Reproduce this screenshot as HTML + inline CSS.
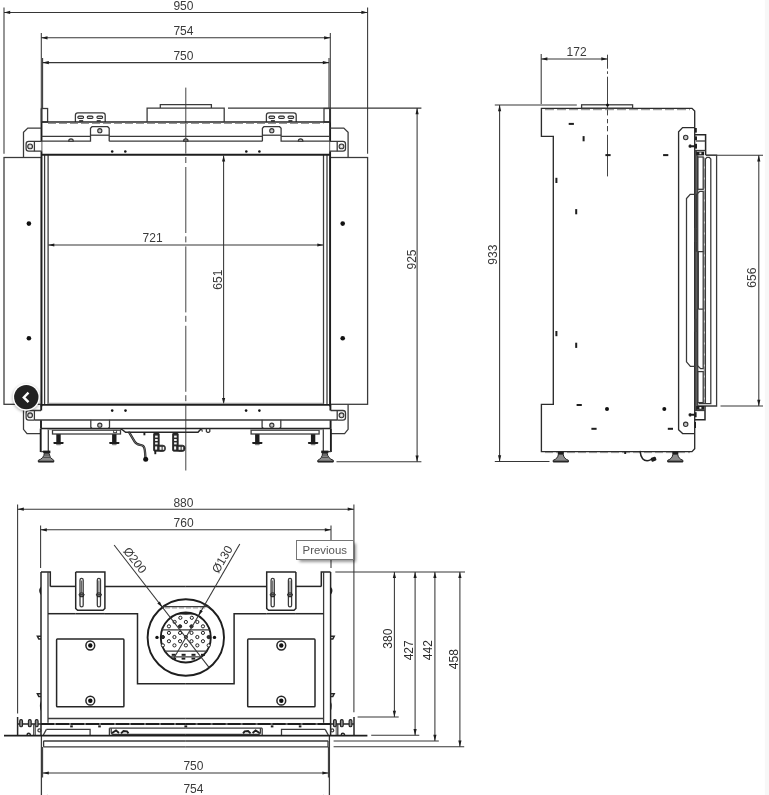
<!DOCTYPE html>
<html lang="en"><head><meta charset="utf-8"><title>Dimensions</title>
<style>
html,body{margin:0;padding:0;background:#fff}
body{width:769px;height:795px;overflow:hidden;font-family:"Liberation Sans",sans-serif}
svg{display:block;will-change:transform}
.t{fill:none;stroke:#3a3a3a;stroke-width:1.28}
.n{fill:none;stroke:#444;stroke-width:.9}
.g{fill:none;stroke:#8a8a8a;stroke-width:1}
.k{fill:none;stroke:#1e1e1e;stroke-width:1.9}
.k2{fill:none;stroke:#262626;stroke-width:1.5}
.sb{fill:none;stroke:#2c2c2c;stroke-width:1.35}
.m{fill:none;stroke:#363636;stroke-width:1.05}
.c{fill:none;stroke:#444;stroke-width:1}
.cb{fill:none;stroke:#222;stroke-width:2.3;stroke-linecap:round}
.cb2{fill:none;stroke:#222;stroke-width:1.5;stroke-linecap:round}
.cbi{fill:none;stroke:#aaa;stroke-width:.6}
.a{fill:#1c1c1c;stroke:none}
.d{fill:#111;stroke:none}
.f{fill:#1e1e1e;stroke:none}
.f2{fill:#8c8c8c;stroke:#222;stroke-width:1}
.ft{fill:#2a2a2a;stroke:#1e1e1e;stroke-width:.8}
.w{fill:#f4f4f4;stroke:none}
.pg{fill:#888;stroke:#222;stroke-width:1.1}
.sl{fill:#d8d8d8;stroke:#2e2e2e;stroke-width:1.05}
.cg{fill:#c4c4c4;stroke:#333;stroke-width:1.1}
.h{fill:#fff;stroke:#222;stroke-width:1}
.hf{fill:#333;stroke:#1c1c1c;stroke-width:1}
text{font-family:"Liberation Sans",sans-serif}
.dt{fill:#3a3a3a}
.dt2{fill:#2e2e2e}
</style></head>
<body>
<svg width="769" height="795" viewBox="0 0 769 795">
<defs><filter id="bl" x="-20%" y="-40%" width="140%" height="180%"><feGaussianBlur stdDeviation="1.6"/></filter></defs>
<rect x="0" y="0" width="769" height="795" fill="#fff"/>
<rect x="764.8" y="0" width="4.2" height="795" fill="#f7f7f7"/>
<line class="m" x1="4" y1="7.5" x2="4" y2="153.7"/>
<line class="m" x1="367.6" y1="7.5" x2="367.6" y2="153.7"/>
<line class="m" x1="4" y1="12.4" x2="367.6" y2="12.4"/>
<polygon class="a" points="4,12.4 10.2,10.8 10.2,14"/>
<polygon class="a" points="367.6,12.4 361.4,14 361.4,10.8"/>
<text class="dt" x="183.4" y="10.1" font-size="12" text-anchor="middle">950</text>
<line class="m" x1="41.3" y1="33" x2="41.3" y2="108"/>
<line class="m" x1="330.3" y1="33" x2="330.3" y2="108"/>
<line class="m" x1="41.3" y1="37.8" x2="330.3" y2="37.8"/>
<polygon class="a" points="41.3,37.8 47.5,36.2 47.5,39.4"/>
<polygon class="a" points="330.3,37.8 324.1,39.4 324.1,36.2"/>
<text class="dt" x="183.4" y="35.2" font-size="12" text-anchor="middle">754</text>
<line class="m" x1="42.6" y1="58" x2="42.6" y2="108"/>
<line class="m" x1="329" y1="58" x2="329" y2="108"/>
<line class="m" x1="42.6" y1="62.6" x2="329" y2="62.6"/>
<polygon class="a" points="42.6,62.6 48.8,61 48.8,64.2"/>
<polygon class="a" points="329,62.6 322.8,64.2 322.8,61"/>
<text class="dt" x="183.4" y="60.4" font-size="12" text-anchor="middle">750</text>
<line class="m" x1="228" y1="108.1" x2="421.4" y2="108.1"/>
<line class="m" x1="336.5" y1="461.7" x2="421.4" y2="461.7"/>
<line class="m" x1="417.1" y1="108.1" x2="417.1" y2="461.7"/>
<polygon class="a" points="417.1,108.1 418.7,114.3 415.5,114.3"/>
<polygon class="a" points="417.1,461.7 415.5,455.5 418.7,455.5"/>
<text class="dt" x="415.5" y="259.5" font-size="12" text-anchor="middle" transform="rotate(-90 415.5 259.5)">925</text>
<line class="m" x1="48.1" y1="245" x2="323.5" y2="245"/>
<polygon class="a" points="48.1,245 54.3,243.4 54.3,246.6"/>
<polygon class="a" points="323.5,245 317.3,246.6 317.3,243.4"/>
<text class="dt" x="152.6" y="242.3" font-size="12" text-anchor="middle">721</text>
<line class="m" x1="223.6" y1="155.4" x2="223.6" y2="404.2"/>
<polygon class="a" points="223.6,155.4 225.2,161.6 222,161.6"/>
<polygon class="a" points="223.6,404.2 222,398 225.2,398"/>
<text class="dt" x="221.6" y="279.7" font-size="12" text-anchor="middle" transform="rotate(-90 221.6 279.7)">651</text>
<line class="c" x1="185.8" y1="87.6" x2="185.8" y2="470.5" stroke-dasharray="66 3.4 6 4"/>
<rect class="t" x="4" y="157.5" width="37.4" height="246.8"/>
<circle class="d" cx="28.9" cy="223.6" r="2.3"/>
<circle class="d" cx="28.9" cy="338.2" r="2.3"/>
<line class="k" x1="41.5" y1="108.3" x2="41.5" y2="141.4"/>
<line class="k" x1="41.5" y1="151.2" x2="41.5" y2="406.4"/>
<line class="k" x1="41" y1="420.1" x2="41" y2="428.6"/>
<line class="t" x1="44.6" y1="155" x2="44.6" y2="405"/>
<line class="t" x1="48.1" y1="155" x2="48.1" y2="405"/>
<rect class="t" x="41.5" y="108.5" width="6.1" height="13.5"/>
<path class="t" d="M75.4,122 L75.4,115.2 Q75.4,112.9 77.8,112.9 L102.8,112.9 Q105.2,112.9 105.2,115.2 L105.2,122"/>
<rect class="sl" x="77.8" y="116.1" width="5.8" height="2.4" rx="1.2"/>
<rect class="sl" x="87.2" y="116.1" width="5.8" height="2.4" rx="1.2"/>
<rect class="sl" x="96.9" y="116.1" width="5.8" height="2.4" rx="1.2"/>
<line class="k2" x1="79.2" y1="120.9" x2="83.2" y2="120.9"/>
<line class="k2" x1="96.7" y1="120.9" x2="100.7" y2="120.9"/>
<path class="t" d="M41.5,136.4 L90.5,136.4"/>
<path class="t" d="M41.5,141.2 L90.5,141.2 L90.5,128.2 L92,126.7 L107.7,126.7 L109.2,128.2 L109.2,141.2"/>
<circle class="cg" cx="99.8" cy="130.7" r="2.1"/>
<line class="t" x1="90.5" y1="135.2" x2="109.2" y2="135.2"/>
<path class="cg" d="M68.7,141.2 A2.3,2.3 0 0 1 73.3,141.2 Z"/>
<circle class="d" cx="112.2" cy="151.5" r="1.3"/>
<circle class="d" cx="125.3" cy="151.5" r="1.3"/>
<path class="t" d="M41.5,128.1 L27.8,128.1 L23.5,132.2 L23.5,157.5"/>
<path class="t" d="M41.8,141.4 L28.7,141.4 Q26.1,141.4 26.1,144.0 L26.1,148.6 Q26.1,151.2 28.7,151.2 L41.8,151.2"/>
<line class="t" x1="34.4" y1="141.4" x2="34.4" y2="151.2"/>
<line class="n" x1="41.9" y1="141.4" x2="41.9" y2="151.2"/>
<circle class="cg" cx="30.1" cy="146.4" r="2.4"/>
<circle cx="30.1" cy="146.4" r="0.8" fill="#fff"/>
<path class="t" d="M23.5,404.3 L23.5,429.3 L27,433.6 L40.6,433.6"/>
<path class="t" d="M41,410.5 L28.7,410.5 Q26.1,410.5 26.1,413.1 L26.1,417.5 Q26.1,420.1 28.7,420.1 L34.4,420.1"/>
<line class="t" x1="34.4" y1="410.5" x2="34.4" y2="420.1"/>
<line class="k" x1="41.2" y1="404.9" x2="41.2" y2="410.5"/>
<circle class="cg" cx="30.1" cy="415.3" r="2.4"/>
<circle cx="30.1" cy="415.3" r="0.8" fill="#fff"/>
<circle class="d" cx="112.2" cy="410.6" r="1.3"/>
<circle class="d" cx="125.5" cy="410.6" r="1.3"/>
<path class="t" d="M90.8,419.8 L90.8,427.2 L92.2,428.6 L108.1,428.6 L109.5,427.2 L109.5,419.8"/>
<circle class="cg" cx="99.8" cy="425.2" r="2.1"/>
<line class="k" x1="40.7" y1="428.6" x2="40.7" y2="452"/>
<line class="t" x1="48.3" y1="428.6" x2="48.3" y2="451.2"/>
<line class="t" x1="40.7" y1="451.6" x2="44" y2="451.6"/>
<rect class="f" x="43.2" y="450.6" width="7.2" height="2.6"/>
<path class="f2" d="M44.4,453.2 L49,453.2 Q49.4,458.4 53.8,460.3 L53.8,461.9 L38.3,461.9 L38.3,460.3 Q43.8,458.4 44.4,453.2 Z"/>
<line class="k2" x1="38.3" y1="461.5" x2="53.8" y2="461.5"/>
<line class="n" x1="44.2" y1="455" x2="49.2" y2="455"/>
<line class="n" x1="43.2" y1="457.4" x2="50.2" y2="457.4"/>
<rect class="t" x="52.5" y="430.2" width="68" height="3.8"/>
<rect class="f" x="56.3" y="434.2" width="4.4" height="8"/>
<rect class="f" x="53.3" y="442.0" width="10.4" height="1.9" rx=".8"/>
<rect class="f" x="56.1" y="443.6" width="4.8" height="1.6" rx=".8" fill-opacity="0.55"/>
<rect class="f" x="112.1" y="434.2" width="4.4" height="8"/>
<rect class="f" x="109.1" y="442.0" width="10.4" height="1.9" rx=".8"/>
<rect class="f" x="111.9" y="443.6" width="4.8" height="1.6" rx=".8" fill-opacity="0.55"/>
<rect class="t" x="330.2" y="157.5" width="37.4" height="246.8"/>
<circle class="d" cx="342.7" cy="223.6" r="2.3"/>
<circle class="d" cx="342.7" cy="338.2" r="2.3"/>
<line class="k" x1="330.1" y1="108.3" x2="330.1" y2="141.4"/>
<line class="k" x1="330.1" y1="151.2" x2="330.1" y2="406.4"/>
<line class="k" x1="330.6" y1="420.1" x2="330.6" y2="428.6"/>
<line class="t" x1="327" y1="155" x2="327" y2="405"/>
<line class="t" x1="323.5" y1="155" x2="323.5" y2="405"/>
<rect class="t" x="324" y="108.5" width="6.1" height="13.5"/>
<path class="t" d="M296.2,122 L296.2,115.2 Q296.2,112.9 293.8,112.9 L268.8,112.9 Q266.4,112.9 266.4,115.2 L266.4,122"/>
<rect class="sl" x="288" y="116.1" width="5.8" height="2.4" rx="1.2"/>
<rect class="sl" x="278.6" y="116.1" width="5.8" height="2.4" rx="1.2"/>
<rect class="sl" x="268.9" y="116.1" width="5.8" height="2.4" rx="1.2"/>
<line class="k2" x1="288.4" y1="120.9" x2="292.4" y2="120.9"/>
<line class="k2" x1="270.9" y1="120.9" x2="274.9" y2="120.9"/>
<path class="t" d="M330.1,136.4 L281.1,136.4"/>
<path class="t" d="M330.1,141.2 L281.1,141.2 L281.1,128.2 L279.6,126.7 L263.9,126.7 L262.4,128.2 L262.4,141.2"/>
<circle class="cg" cx="271.8" cy="130.7" r="2.1"/>
<line class="t" x1="281.1" y1="135.2" x2="262.4" y2="135.2"/>
<path class="cg" d="M298.3,141.2 A2.3,2.3 0 0 1 302.9,141.2 Z"/>
<circle class="d" cx="259.4" cy="151.5" r="1.3"/>
<circle class="d" cx="246.3" cy="151.5" r="1.3"/>
<path class="t" d="M330.1,128.1 L343.8,128.1 L348.1,132.2 L348.1,157.5"/>
<path class="t" d="M329.8,141.4 L342.9,141.4 Q345.5,141.4 345.5,144.0 L345.5,148.6 Q345.5,151.2 342.9,151.2 L329.8,151.2"/>
<line class="t" x1="337.2" y1="141.4" x2="337.2" y2="151.2"/>
<line class="n" x1="329.7" y1="141.4" x2="329.7" y2="151.2"/>
<circle class="cg" cx="341.5" cy="146.4" r="2.4"/>
<circle cx="341.5" cy="146.4" r="0.8" fill="#fff"/>
<path class="t" d="M348.1,404.3 L348.1,429.3 L344.6,433.6 L331,433.6"/>
<path class="t" d="M330.6,410.5 L342.9,410.5 Q345.5,410.5 345.5,413.1 L345.5,417.5 Q345.5,420.1 342.9,420.1 L337.2,420.1"/>
<line class="t" x1="337.2" y1="410.5" x2="337.2" y2="420.1"/>
<line class="k" x1="330.4" y1="404.9" x2="330.4" y2="410.5"/>
<circle class="cg" cx="341.5" cy="415.3" r="2.4"/>
<circle cx="341.5" cy="415.3" r="0.8" fill="#fff"/>
<circle class="d" cx="259.4" cy="410.6" r="1.3"/>
<circle class="d" cx="246.1" cy="410.6" r="1.3"/>
<path class="t" d="M280.8,419.8 L280.8,427.2 L279.4,428.6 L263.5,428.6 L262.1,427.2 L262.1,419.8"/>
<circle class="cg" cx="271.8" cy="425.2" r="2.1"/>
<line class="k" x1="330.9" y1="428.6" x2="330.9" y2="452"/>
<line class="t" x1="323.3" y1="428.6" x2="323.3" y2="451.2"/>
<line class="t" x1="330.9" y1="451.6" x2="327.6" y2="451.6"/>
<rect class="f" x="321.2" y="450.6" width="7.2" height="2.6"/>
<path class="f2" d="M327.2,453.2 L322.6,453.2 Q322.2,458.4 317.8,460.3 L317.8,461.9 L333.3,461.9 L333.3,460.3 Q327.8,458.4 327.2,453.2 Z"/>
<line class="k2" x1="333.3" y1="461.5" x2="317.8" y2="461.5"/>
<line class="n" x1="327.4" y1="455" x2="322.4" y2="455"/>
<line class="n" x1="328.4" y1="457.4" x2="321.4" y2="457.4"/>
<rect class="t" x="251.1" y="430.2" width="68" height="3.8"/>
<rect class="f" x="310.9" y="434.2" width="4.4" height="8"/>
<rect class="f" x="307.9" y="442.0" width="10.4" height="1.9" rx=".8"/>
<rect class="f" x="310.7" y="443.6" width="4.8" height="1.6" rx=".8" fill-opacity="0.55"/>
<rect class="f" x="255.1" y="434.2" width="4.4" height="8"/>
<rect class="f" x="252.1" y="442.0" width="10.4" height="1.9" rx=".8"/>
<rect class="f" x="254.9" y="443.6" width="4.8" height="1.6" rx=".8" fill-opacity="0.55"/>
<rect class="n" x="113.6" y="430" width="3" height="2.6"/>
<path class="cg" d="M183.5,141.2 A2.3,2.3 0 0 1 188.1,141.2 Z"/>
<line class="t" x1="109.2" y1="136.4" x2="262.4" y2="136.4"/>
<line class="t" x1="109.2" y1="141.2" x2="262.4" y2="141.2"/>
<line class="k2" x1="41.5" y1="122" x2="330.1" y2="122"/>
<line class="g" x1="48" y1="123.4" x2="323.6" y2="123.4" stroke-dasharray="8 3"/>
<path class="t" d="M147.1,122 L147.1,108.1 L224.2,108.1 L224.2,122"/>
<path class="t" d="M160.3,108.1 L160.3,104.7 L211.4,104.7 L211.4,108.1"/>
<line class="k" x1="41.5" y1="154.8" x2="330.1" y2="154.8"/>
<line class="g" x1="48.1" y1="403.3" x2="323.5" y2="403.3"/>
<line class="k" x1="41.5" y1="404.9" x2="330.1" y2="404.9"/>
<line class="t" x1="34.4" y1="420" x2="337.2" y2="420"/>
<line class="k2" x1="40.9" y1="428.5" x2="330.7" y2="428.5"/>
<line class="g" x1="48" y1="429.6" x2="121" y2="429.6"/>
<line class="g" x1="250.6" y1="429.6" x2="323.6" y2="429.6"/>
<path class="k2" d="M120.5,428.6 L122.6,430 L125.6,432.3 L198,432.3 L201.4,428.6"/>
<path class="t" d="M206.4,428.6 L206.4,431.4 L207.4,432.4 L208.8,432.4 L209.8,431.4 L209.8,428.6"/>
<path class="t" d="M201.4,428.6 L202.4,431.6"/>
<line class="k" x1="144.4" y1="432.3" x2="144.4" y2="435.3"/>
<path class="cb" d="M129.3,432.6 L134.8,441.8 C136.6,445.4 140.4,444.4 142.8,445.8 C145.4,447.4 144.8,451 145.4,457.2"/>
<path class="cbi" d="M129.3,432.6 L134.8,441.8 C136.6,445.4 140.4,444.4 142.8,445.8 C145.4,447.4 144.8,451 145.4,457.2"/>
<circle class="d" cx="145.7" cy="459.3" r="2.5"/>
<rect class="ft" x="153.6" y="433" width="5.6" height="18.2" rx="1.2"/>
<rect class="ft" x="157.2" y="445.2" width="8.2" height="6.2" rx="2.6"/>
<rect class="w" x="155.1" y="435.6" width="2.6" height="2"/>
<rect class="w" x="155.1" y="439" width="2.6" height="2"/>
<rect class="w" x="155.1" y="442.4" width="2.6" height="2"/>
<rect class="w" x="155.1" y="446.4" width="2.1" height="3.2"/>
<rect class="w" x="159.6" y="446.8" width="2" height="3"/>
<rect class="w" x="162.6" y="446.8" width="1.6" height="3"/>
<rect class="ft" x="172.6" y="433" width="5.6" height="18.2" rx="1.2"/>
<rect class="ft" x="176.2" y="445.2" width="8.8" height="6.2" rx="2.6"/>
<rect class="w" x="174.1" y="435.6" width="2.6" height="2"/>
<rect class="w" x="174.1" y="439" width="2.6" height="2"/>
<rect class="w" x="174.1" y="442.4" width="2.6" height="2"/>
<rect class="w" x="174.1" y="446.4" width="2.1" height="3.2"/>
<rect class="w" x="178.6" y="446.8" width="2" height="3"/>
<rect class="w" x="181.6" y="446.8" width="1.6" height="3"/>
<line class="k" x1="155.3" y1="451" x2="155.3" y2="454.2"/>
<circle cx="26.3" cy="398.2" r="13.8" fill="#000" opacity="0.28" filter="url(#bl)"/>
<circle cx="26.3" cy="397.1" r="13.6" fill="#fff"/>
<circle cx="26.3" cy="397.1" r="12.2" fill="#222"/>
<path d="M28.5,392.7 L23.8,397.4 L28.5,402.1" fill="none" stroke="#fff" stroke-width="2.4" stroke-linejoin="miter"/>
<line class="m" x1="541.2" y1="54" x2="541.2" y2="104"/>
<line class="c" x1="607.5" y1="54.7" x2="607.5" y2="176.4" stroke-dasharray="14 2.6 2.6 2.8 38.7 3.6 4.3 2.7 5.3 3.5 42"/>
<line class="m" x1="541.2" y1="58.9" x2="607.5" y2="58.9"/>
<polygon class="a" points="541.2,58.9 547.4,57.3 547.4,60.5"/>
<polygon class="a" points="607.5,58.9 601.3,60.5 601.3,57.3"/>
<text class="dt" x="576.6" y="56.1" font-size="12" text-anchor="middle">172</text>
<line class="m" x1="494.8" y1="105" x2="576.8" y2="105"/>
<line class="m" x1="494.8" y1="461.5" x2="549.5" y2="461.5"/>
<line class="m" x1="499.6" y1="105" x2="499.6" y2="461.5"/>
<polygon class="a" points="499.6,105 501.2,111.2 498,111.2"/>
<polygon class="a" points="499.6,461.5 498,455.3 501.2,455.3"/>
<text class="dt" x="497.2" y="254.6" font-size="12" text-anchor="middle" transform="rotate(-90 497.2 254.6)">933</text>
<line class="m" x1="706" y1="155.2" x2="763" y2="155.2"/>
<line class="m" x1="720.5" y1="405.9" x2="763" y2="405.9"/>
<line class="m" x1="758.8" y1="155.2" x2="758.8" y2="405.9"/>
<polygon class="a" points="758.8,155.2 760.4,161.4 757.2,161.4"/>
<polygon class="a" points="758.8,405.9 757.2,399.7 760.4,399.7"/>
<text class="dt" x="756.3" y="277.7" font-size="12" text-anchor="middle" transform="rotate(-90 756.3 277.7)">656</text>
<path class="sb" d="M541.4,108.3 L692,108.3 L694.7,111 L694.7,448.8 L692,451.6 L541.4,451.6 L541.4,404.4 L553.3,404.4 L553.3,136.4 L541.4,136.4 Z"/>
<line class="g" x1="545" y1="109.7" x2="690" y2="109.7" stroke-dasharray="9 3"/>
<line class="g" x1="545" y1="452.6" x2="690" y2="452.6" stroke-dasharray="8 3"/>
<rect class="t" x="581.6" y="104.8" width="51" height="3.5"/>
<circle class="d" cx="607.5" cy="105" r="1.5"/>
<rect class="f" x="568.7" y="122.9" width="5.2" height="2"/>
<rect class="f" x="582.6" y="136.1" width="2" height="5.2"/>
<rect class="f" x="605.4" y="154.1" width="5.2" height="2"/>
<rect class="f" x="663.1" y="154.1" width="5.2" height="2"/>
<rect class="f" x="555.4" y="177.8" width="2" height="5.2"/>
<rect class="f" x="575.2" y="209.1" width="2" height="5.2"/>
<rect class="f" x="555.4" y="331" width="2" height="5.2"/>
<rect class="f" x="575.2" y="342.7" width="2" height="5.2"/>
<rect class="f" x="576.6" y="404" width="5.2" height="2"/>
<circle class="d" cx="607" cy="408.9" r="2"/>
<circle class="d" cx="664.3" cy="408.9" r="2"/>
<rect class="f" x="591.4" y="427.8" width="5.2" height="2"/>
<rect class="f" x="667.8" y="427.8" width="5.2" height="2"/>
<path class="sb" d="M694.7,127.6 L682.6,127.6 L678.6,131.7 L678.6,429.8 L682.6,433.6 L694.7,433.6"/>
<circle class="cg" cx="685.7" cy="137.5" r="2.2"/>
<circle class="cg" cx="685.7" cy="424.3" r="2.2"/>
<rect class="f" x="557.8" y="451.6" width="6" height="2.6"/>
<path class="f2" d="M558.4,454.2 L563.2,454.2 Q563.6,458.6 568.4,460.3 L568.4,461.9 L553.2,461.9 L553.2,460.3 Q558,458.6 558.4,454.2 Z"/>
<line class="k2" x1="553.2" y1="461.4" x2="568.4" y2="461.4"/>
<rect class="f" x="672.3" y="451.6" width="6" height="2.6"/>
<path class="f2" d="M672.9,454.2 L677.7,454.2 Q678.1,458.6 682.9,460.3 L682.9,461.9 L667.7,461.9 L667.7,460.3 Q672.5,458.6 672.9,454.2 Z"/>
<line class="k2" x1="667.7" y1="461.4" x2="682.9" y2="461.4"/>
<path class="cb2" d="M640.2,451.6 C640.6,457.5 643.5,461.5 648.5,460.6 L651.5,459.4"/>
<rect class="f" x="651" y="457.2" width="5.2" height="4" rx="1" transform="rotate(-20 653.6 459.2)"/>
<line class="k" x1="625.2" y1="451.6" x2="625.2" y2="454"/>
<line class="k2" x1="696" y1="150.5" x2="696" y2="410"/>
<line class="t" x1="697.7" y1="155.2" x2="697.7" y2="406"/>
<line class="g" x1="704.2" y1="157.5" x2="704.2" y2="403.5" stroke-dasharray="9 2"/>
<path class="t" d="M706,155.2 L716.6,155.2 L716.6,406 L697.7,406"/>
<path class="t" d="M705.4,403.6 L705.4,159 L706.9,157.4 L709.3,157.4 L710.8,159 L710.8,403.6 L699,403.6"/>
<rect class="t" x="697.7" y="157" width="5.5" height="32.3"/>
<path class="t" d="M696.4,251.7 L696.4,194.6 L699.8,191.4 L703.2,191.4 L703.2,251.7"/>
<path class="t" d="M698.3,309.2 L698.3,251.7 L703.2,251.7 L703.2,309.2 L698.3,309.2"/>
<path class="t" d="M697.3,309.2 L697.3,365.4 L700.6,368.6 L703.2,368.6 L703.2,309.2"/>
<rect class="t" x="697.7" y="371.6" width="5.5" height="31"/>
<rect class="n" x="694.9" y="228.5" width="2.1" height="13.1"/>
<rect class="n" x="694.9" y="319.2" width="2.1" height="12.1"/>
<path class="t" d="M694.7,194.3 L690.2,194.3 L686.5,198.6 L686.5,361.8 L690.4,366.4 L694.7,366.4"/>
<path class="k2" d="M694.7,134.8 L705.6,134.8 L705.6,155.2"/>
<line class="t" x1="696" y1="141" x2="705.6" y2="141"/>
<line class="t" x1="694.7" y1="150.5" x2="705.6" y2="150.5"/>
<rect class="f" x="696.2" y="151.6" width="7.8" height="3.8"/>
<rect class="w" x="699.4" y="152.4" width="2" height="1.8"/>
<path class="k" d="M688.6,146.2 L694.7,146.2 M690.2,144.6 L690.2,147.8"/>
<rect class="f" x="694.9" y="143.8" width="2.1" height="4.8"/>
<rect class="f" x="694.9" y="128" width="1.9" height="4.6"/>
<rect class="f" x="694.9" y="136.4" width="2.1" height="3.8"/>
<path class="k2" d="M705,406 L705,419.8 L694.7,419.8"/>
<line class="t" x1="694.7" y1="410.5" x2="705" y2="410.5"/>
<rect class="f" x="696.2" y="406" width="7.8" height="3.8"/>
<rect class="w" x="699.4" y="407" width="2" height="1.8"/>
<path class="k" d="M688.6,414.8 L694.7,414.8 M690.2,413.2 L690.2,416.4"/>
<rect class="f" x="694.7" y="412.2" width="1.9" height="5"/>
<rect class="f" x="694.7" y="422" width="1.3" height="6"/>
<line class="m" x1="17.6" y1="504.6" x2="17.6" y2="713.4"/>
<line class="m" x1="353.9" y1="504.6" x2="353.9" y2="712.3"/>
<line class="m" x1="17.6" y1="509.2" x2="353.9" y2="509.2"/>
<polygon class="a" points="17.6,509.2 23.8,507.6 23.8,510.8"/>
<polygon class="a" points="353.9,509.2 347.7,510.8 347.7,507.6"/>
<text class="dt" x="183.4" y="506.7" font-size="12" text-anchor="middle">880</text>
<line class="m" x1="40.6" y1="525.5" x2="40.6" y2="568"/>
<line class="m" x1="331" y1="525.5" x2="331" y2="568" stroke-dasharray="26 3"/>
<line class="m" x1="40.6" y1="529.8" x2="331" y2="529.8"/>
<polygon class="a" points="40.6,529.8 46.8,528.2 46.8,531.4"/>
<polygon class="a" points="331,529.8 324.8,531.4 324.8,528.2"/>
<text class="dt" x="183.6" y="527.2" font-size="12" text-anchor="middle">760</text>
<line class="t" x1="41.4" y1="735.6" x2="41.4" y2="795"/>
<line class="t" x1="329.4" y1="735.6" x2="329.4" y2="795"/>
<line class="m" x1="42.6" y1="773" x2="328.6" y2="773"/>
<polygon class="a" points="42.6,773 48.8,771.4 48.8,774.6"/>
<polygon class="a" points="328.6,773 322.4,774.6 322.4,771.4"/>
<text class="dt" x="193.4" y="770.1" font-size="12" text-anchor="middle">750</text>
<line class="m" x1="41.4" y1="796.4" x2="329.4" y2="796.4"/>
<polygon class="a" points="41.4,796.4 47.6,794.8 47.6,798"/>
<polygon class="a" points="329.4,796.4 323.2,798 323.2,794.8"/>
<text class="dt" x="193.4" y="792.6" font-size="12" text-anchor="middle">754</text>
<line class="m" x1="42.6" y1="746.9" x2="42.6" y2="777.4"/>
<line class="m" x1="328.4" y1="746.9" x2="328.4" y2="777.4"/>
<line class="m" x1="335.3" y1="571.9" x2="465" y2="571.9"/>
<line class="m" x1="357.6" y1="717" x2="398.7" y2="717"/>
<line class="m" x1="371.2" y1="735.2" x2="419.3" y2="735.2"/>
<line class="m" x1="333.6" y1="741" x2="438.8" y2="741"/>
<line class="m" x1="333.6" y1="746.8" x2="464.2" y2="746.8"/>
<line class="m" x1="394.4" y1="571.9" x2="394.4" y2="717"/>
<polygon class="a" points="394.4,571.9 396,578.1 392.8,578.1"/>
<polygon class="a" points="394.4,717 392.8,710.8 396,710.8"/>
<text class="dt2" x="391.9" y="638.6" font-size="12" text-anchor="middle" transform="rotate(-90 391.9 638.6)">380</text>
<line class="m" x1="415.1" y1="571.9" x2="415.1" y2="735.2"/>
<polygon class="a" points="415.1,571.9 416.7,578.1 413.5,578.1"/>
<polygon class="a" points="415.1,735.2 413.5,729 416.7,729"/>
<text class="dt2" x="412.9" y="650.3" font-size="12" text-anchor="middle" transform="rotate(-90 412.9 650.3)">427</text>
<line class="m" x1="434.9" y1="571.9" x2="434.9" y2="741"/>
<polygon class="a" points="434.9,571.9 436.5,578.1 433.3,578.1"/>
<polygon class="a" points="434.9,741 433.3,734.8 436.5,734.8"/>
<text class="dt2" x="432.4" y="650.1" font-size="12" text-anchor="middle" transform="rotate(-90 432.4 650.1)">442</text>
<line class="m" x1="459.9" y1="571.9" x2="459.9" y2="746.8"/>
<polygon class="a" points="459.9,571.9 461.5,578.1 458.3,578.1"/>
<polygon class="a" points="459.9,746.8 458.3,740.6 461.5,740.6"/>
<text class="dt2" x="457.6" y="659.2" font-size="12" text-anchor="middle" transform="rotate(-90 457.6 659.2)">458</text>
<line class="k2" x1="41" y1="572" x2="41" y2="735.6"/>
<path class="k2" d="M41,572 L50.3,572 L50.3,586.4"/>
<line class="t" x1="48" y1="572" x2="48" y2="722.8"/>
<path class="k2" d="M75.7,572 L75.7,608.5 L77.6,610.3 L103,610.3 L104.9,608.5 L104.9,572 L75.7,572"/>
<rect class="t" x="80" y="578.4" width="3.2" height="28.4" rx="1.6"/>
<line class="n" x1="81.6" y1="580.5" x2="81.6" y2="592.5"/>
<circle class="pg" cx="81.6" cy="594.7" r="2"/>
<line class="t" x1="78.6" y1="594.7" x2="84.6" y2="594.7"/>
<rect class="t" x="97.3" y="578.4" width="3.2" height="28.4" rx="1.6"/>
<line class="n" x1="98.9" y1="580.5" x2="98.9" y2="592.5"/>
<circle class="pg" cx="98.9" cy="594.7" r="2"/>
<line class="t" x1="95.9" y1="594.7" x2="101.9" y2="594.7"/>
<line class="k2" x1="50.3" y1="586.4" x2="75.7" y2="586.4"/>
<line class="k2" x1="104.9" y1="586.4" x2="185.8" y2="586.4"/>
<path class="k2" d="M48,613.7 L75.7,613.7"/>
<path class="k2" d="M104.9,613.7 L137.5,613.7 L137.5,683.7 L185.8,683.7"/>
<line class="k2" x1="75.7" y1="613.7" x2="104.9" y2="613.7"/>
<rect class="k2" x="56.6" y="639.1" width="67.3" height="67.7" rx="0.8"/>
<circle class="k2" cx="90.3" cy="645.5" r="4.4"/>
<circle class="d" cx="90.3" cy="645.5" r="2.2"/>
<circle class="k2" cx="90.3" cy="700.7" r="4.4"/>
<circle class="d" cx="90.3" cy="700.7" r="2.2"/>
<path class="k2" d="M41,636.2 L37.4,636.2 L38.8,639 L41,639"/>
<path class="k2" d="M41,693.8 L37.4,693.8 L38.8,696.6 L41,696.6"/>
<path class="f" d="M41,586.4 Q37.4,590.5 41,595 Z"/>
<path class="f" d="M41,701 Q38.8,706 41,711 Z"/>
<line class="k2" x1="17.6" y1="717" x2="17.6" y2="735.6"/>
<line class="k2" x1="17.6" y1="724" x2="41" y2="724"/>
<rect class="pg" x="19.7" y="719.6" width="2.8" height="7.2" rx="1.3"/>
<rect class="pg" x="28.4" y="719.6" width="2.8" height="7.2" rx="1.3"/>
<rect class="pg" x="35.3" y="719.6" width="2.8" height="7.2" rx="1.3"/>
<line class="t" x1="33.8" y1="724" x2="33.8" y2="735.6"/>
<line class="n" x1="35.4" y1="724" x2="35.4" y2="735.6"/>
<path class="k2" d="M27.1,735 A1.6,1.7 0 0 1 30.3,735"/>
<circle class="t" cx="39.4" cy="730.4" r="1.5"/>
<line class="t" x1="48" y1="718.5" x2="185.8" y2="718.5"/>
<line class="t" x1="41" y1="724" x2="185.8" y2="724"/>
<line class="k" x1="41" y1="724" x2="185.8" y2="724" stroke-dasharray="13 2"/>
<line class="t" x1="109.4" y1="728.2" x2="185.8" y2="728.2"/>
<path class="t" d="M46.4,729.4 L90.1,729.4 L90.1,735.6"/>
<path class="t" d="M109.4,735.6 L109.4,728.2"/>
<path class="t" d="M46.4,729.4 L43.2,735.2"/>
<path class="t" d="M111.2,728.2 L111.2,732.2 Q111.2,734.4 114.2,734.4 L185.8,734.4"/>
<rect class="f" x="70.2" y="725.4" width="2.6" height="2"/>
<rect class="f" x="98.2" y="725.4" width="2.6" height="2"/>
<path class="k" d="M112,733 l4,-2.6 l3,2.6 M121,733.4 l2.5,-2.4 l3.5,0.4 l1.5,2"/>
<line class="t" x1="43.4" y1="741" x2="185.8" y2="741"/>
<line class="t" x1="43.4" y1="746.9" x2="185.8" y2="746.9"/>
<line class="t" x1="43.6" y1="741" x2="43.6" y2="746.9"/>
<line class="k2" x1="330.6" y1="572" x2="330.6" y2="735.6"/>
<path class="k2" d="M330.6,572 L321.3,572 L321.3,586.4"/>
<line class="t" x1="323.6" y1="572" x2="323.6" y2="722.8"/>
<path class="k2" d="M295.9,572 L295.9,608.5 L294,610.3 L268.6,610.3 L266.7,608.5 L266.7,572 L295.9,572"/>
<rect class="t" x="288.4" y="578.4" width="3.2" height="28.4" rx="1.6"/>
<line class="n" x1="290" y1="580.5" x2="290" y2="592.5"/>
<circle class="pg" cx="290" cy="594.7" r="2"/>
<line class="t" x1="287" y1="594.7" x2="293" y2="594.7"/>
<rect class="t" x="271.1" y="578.4" width="3.2" height="28.4" rx="1.6"/>
<line class="n" x1="272.7" y1="580.5" x2="272.7" y2="592.5"/>
<circle class="pg" cx="272.7" cy="594.7" r="2"/>
<line class="t" x1="269.7" y1="594.7" x2="275.7" y2="594.7"/>
<line class="k2" x1="321.3" y1="586.4" x2="295.9" y2="586.4"/>
<line class="k2" x1="266.7" y1="586.4" x2="185.8" y2="586.4"/>
<path class="k2" d="M323.6,613.7 L295.9,613.7"/>
<path class="k2" d="M266.7,613.7 L234.1,613.7 L234.1,683.7 L185.8,683.7"/>
<line class="k2" x1="295.9" y1="613.7" x2="266.7" y2="613.7"/>
<rect class="k2" x="247.7" y="639.1" width="67.3" height="67.7" rx="0.8"/>
<circle class="k2" cx="281.3" cy="645.5" r="4.4"/>
<circle class="d" cx="281.3" cy="645.5" r="2.2"/>
<circle class="k2" cx="281.3" cy="700.7" r="4.4"/>
<circle class="d" cx="281.3" cy="700.7" r="2.2"/>
<path class="k2" d="M330.6,636.2 L334.2,636.2 L332.8,639 L330.6,639"/>
<path class="k2" d="M330.6,693.8 L334.2,693.8 L332.8,696.6 L330.6,696.6"/>
<path class="f" d="M330.6,586.4 Q334.2,590.5 330.6,595 Z"/>
<path class="f" d="M330.6,701 Q332.8,706 330.6,711 Z"/>
<line class="k2" x1="354" y1="717" x2="354" y2="735.6"/>
<line class="k2" x1="354" y1="724" x2="330.6" y2="724"/>
<rect class="pg" x="349.1" y="719.6" width="2.8" height="7.2" rx="1.3"/>
<rect class="pg" x="340.4" y="719.6" width="2.8" height="7.2" rx="1.3"/>
<rect class="pg" x="333.5" y="719.6" width="2.8" height="7.2" rx="1.3"/>
<line class="t" x1="337.8" y1="724" x2="337.8" y2="735.6"/>
<line class="n" x1="336.2" y1="724" x2="336.2" y2="735.6"/>
<path class="k2" d="M341.3,735 A1.6,1.7 0 0 1 344.5,735"/>
<circle class="t" cx="332.2" cy="730.4" r="1.5"/>
<line class="t" x1="323.6" y1="718.5" x2="185.8" y2="718.5"/>
<line class="t" x1="330.6" y1="724" x2="185.8" y2="724"/>
<line class="k" x1="330.6" y1="724" x2="185.8" y2="724" stroke-dasharray="13 2"/>
<line class="t" x1="262.2" y1="728.2" x2="185.8" y2="728.2"/>
<path class="t" d="M325.2,729.4 L281.5,729.4 L281.5,735.6"/>
<path class="t" d="M262.2,735.6 L262.2,728.2"/>
<path class="t" d="M325.2,729.4 L328.4,735.2"/>
<path class="t" d="M260.4,728.2 L260.4,732.2 Q260.4,734.4 257.4,734.4 L185.8,734.4"/>
<rect class="f" x="298.8" y="725.4" width="2.6" height="2"/>
<rect class="f" x="270.8" y="725.4" width="2.6" height="2"/>
<path class="k" d="M259.6,733 l-4,-2.6 l-3,2.6 M250.6,733.4 l-2.5,-2.4 l-3.5,0.4 l-1.5,2"/>
<line class="t" x1="328.2" y1="741" x2="185.8" y2="741"/>
<line class="t" x1="328.2" y1="746.9" x2="185.8" y2="746.9"/>
<line class="t" x1="328" y1="741" x2="328" y2="746.9"/>
<rect class="f" x="184.4" y="725.4" width="2.8" height="2"/>
<line class="k" x1="4" y1="735.6" x2="367.4" y2="735.6"/>
<circle class="k" cx="185.8" cy="637.5" r="38.2"/>
<circle class="k" cx="185.8" cy="637.5" r="25"/>
<line class="t" x1="162.4" y1="606.7" x2="209.2" y2="606.7"/>
<line class="g" x1="165" y1="607.9" x2="206.6" y2="607.9" stroke-dasharray="5 2"/>
<path class="f" d="M176.6,614.3 A25,25 0 0 1 195.0,614.3 Q185.8,615.0 176.6,614.3 Z"/>
<line class="t" x1="162.02" y1="629.8" x2="209.58" y2="629.8"/>
<line class="t" x1="164.89" y1="651.2" x2="206.71" y2="651.2"/>
<line class="t" x1="169.91" y1="656.8" x2="201.69" y2="656.8"/>
<rect class="f" x="171.7" y="653.8" width="4" height="2"/>
<rect class="f" x="181.6" y="653.8" width="4" height="2"/>
<rect class="f" x="191.5" y="653.8" width="4" height="2"/>
<rect class="f" x="201" y="653.8" width="4" height="2"/>
<rect class="f" x="172.4" y="657.7" width="3.7" height="1.9"/>
<rect class="f" x="181.6" y="657.7" width="3.7" height="1.9"/>
<rect class="f" x="191.5" y="657.7" width="3.7" height="1.9"/>
<circle class="h" cx="180.37" cy="617.81" r="1.6"/>
<circle class="h" cx="191.81" cy="617.81" r="1.6"/>
<circle class="h" cx="174.65" cy="621.97" r="1.6"/>
<circle class="h" cx="185.88" cy="621.97" r="1.6"/>
<circle class="h" cx="197.33" cy="621.97" r="1.6"/>
<circle class="h" cx="168.93" cy="626.34" r="1.6"/>
<circle class="h" cx="202.95" cy="626.34" r="1.6"/>
<circle class="hf" cx="180.06" cy="626.34" r="1.6"/>
<circle class="hf" cx="191.5" cy="626.34" r="1.6"/>
<circle class="h" cx="168.93" cy="632.89" r="1.6"/>
<circle class="h" cx="180.06" cy="632.89" r="1.6"/>
<circle class="h" cx="191.5" cy="632.89" r="1.6"/>
<circle class="h" cx="202.95" cy="632.89" r="1.6"/>
<circle class="hf" cx="162.89" cy="637.05" r="1.6"/>
<circle class="h" cx="174.44" cy="637.05" r="1.6"/>
<circle class="h" cx="185.88" cy="637.05" r="1.6"/>
<circle class="h" cx="197.33" cy="637.05" r="1.6"/>
<circle class="hf" cx="208.67" cy="637.05" r="1.6"/>
<circle class="h" cx="168.93" cy="641.21" r="1.6"/>
<circle class="h" cx="180.06" cy="641.21" r="1.6"/>
<circle class="h" cx="191.5" cy="641.21" r="1.6"/>
<circle class="h" cx="202.95" cy="641.21" r="1.6"/>
<circle class="h" cx="162.89" cy="645.37" r="1.6"/>
<circle class="h" cx="174.44" cy="645.37" r="1.6"/>
<circle class="h" cx="185.88" cy="645.37" r="1.6"/>
<circle class="h" cx="197.33" cy="645.37" r="1.6"/>
<circle class="h" cx="208.67" cy="645.37" r="1.6"/>
<circle class="d" cx="157" cy="637.4" r="1.7"/>
<circle class="d" cx="214.5" cy="637.4" r="1.7"/>
<line class="m" x1="114.1" y1="545" x2="209.2" y2="667.69"/>
<polygon class="a" points="162.4,607.31 157.33,603.39 159.86,601.43"/>
<line class="m" x1="239.8" y1="544.1" x2="173.29" y2="659.14"/>
<polygon class="a" points="198.31,615.86 200.03,609.69 202.8,611.29"/>
<text class="dt" x="131.8" y="562.8" font-size="12" text-anchor="middle" transform="rotate(52.22 131.8 562.8)">Ø200</text>
<text class="dt" x="225.8" y="561.4" font-size="12" text-anchor="middle" transform="rotate(-59.97 225.8 561.4)">Ø130</text>
<rect x="299.5" y="543.5" width="56.5" height="18.5" fill="#000" opacity="0.4" filter="url(#bl)"/>
<rect x="296.5" y="540.5" width="57" height="19" fill="#fff" stroke="#767676" stroke-width="1"/>
<text x="302.6" y="553.6" font-size="11.6" fill="#575757" textLength="44.4" lengthAdjust="spacingAndGlyphs" style="font-family:'Liberation Sans',sans-serif">Previous</text>
</svg>
</body></html>
